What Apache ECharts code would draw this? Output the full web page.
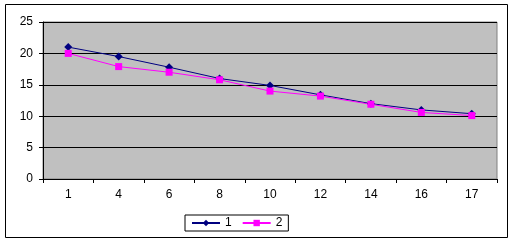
<!DOCTYPE html>
<html>
<head>
<meta charset="utf-8">
<script src="https://cdn.jsdelivr.net/npm/echarts@6/dist/echarts.min.js"></script>
<style>
  html, body { margin: 0; padding: 0; background: #fff; }
  #chart { width: 514px; height: 243px; }
</style>
</head>
<body>
<div id="chart"></div>
<script>
// x categories and both series
const categories = ["1", "4", "6", "8", "10", "12", "14", "16", "17"];
const series1 = [21.0, 19.5, 17.8, 16.0, 14.9, 13.4, 12.0, 11.0, 10.4];
const series2 = [20.0, 17.9, 17.0, 15.8, 14.0, 13.2, 11.9, 10.6, 10.1];

const chart = echarts.init(document.getElementById("chart"));
const font = "Liberation Sans, Arial, sans-serif";

chart.setOption({
  animation: false,
  textStyle: { fontFamily: font },
  graphic: [
    {
      type: "rect",
      shape: { x: 5.5, y: 4.5, width: 502, height: 233 },
      style: { fill: "none", stroke: "#000", lineWidth: 1 },
      silent: true
    }
  ],
  grid: {
    left: 43, top: 22, right: 17, bottom: 64,
    show: true,
    backgroundColor: "#C0C0C0",
    borderColor: "#808080",
    borderWidth: 1
  },
  legend: {
    left: 185, top: 215,
    padding: [2, 6, 2, 6],
    borderColor: "#000",
    borderWidth: 1,
    itemWidth: 28,
    itemHeight: 8,
    itemGap: 10,
    textStyle: { fontSize: 12, color: "#000", fontFamily: font },
    data: ["1", "2"]
  },
  xAxis: {
    type: "category",
    data: categories,
    boundaryGap: true,
    axisLine: { lineStyle: { color: "#000", width: 1 } },
    axisTick: { show: true, length: 4, alignWithLabel: false, lineStyle: { color: "#000" } },
    axisLabel: { color: "#000", fontSize: 12, margin: 10, fontFamily: font },
    splitLine: { show: false }
  },
  yAxis: {
    type: "value",
    min: 0, max: 25, interval: 5,
    axisLine: { show: true, lineStyle: { color: "#000", width: 1 } },
    axisTick: { show: true, length: 4, lineStyle: { color: "#000" } },
    axisLabel: { color: "#000", fontSize: 12, margin: 10, fontFamily: font },
    splitLine: { show: true, lineStyle: { color: "#000", width: 1 } }
  },
  series: [
    {
      name: "1",
      type: "line",
      data: series1,
      symbol: "diamond",
      symbolSize: 8,
      lineStyle: { color: "#000080", width: 1 },
      itemStyle: { color: "#000080" }
    },
    {
      name: "2",
      type: "line",
      data: series2,
      symbol: "rect",
      symbolSize: 7,
      lineStyle: { color: "#FF00FF", width: 1 },
      itemStyle: { color: "#FF00FF" }
    }
  ]
});
</script>
</body>
</html>
